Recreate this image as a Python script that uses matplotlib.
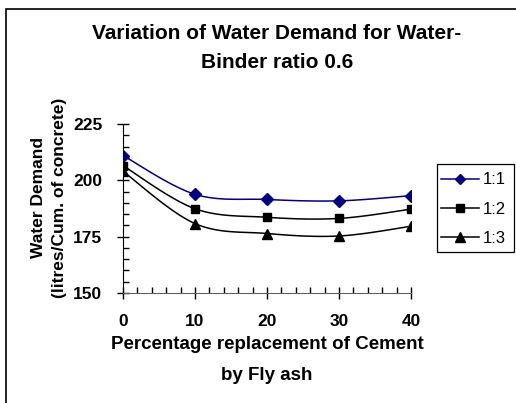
import numpy as np
import matplotlib.pyplot as plt
from matplotlib.patches import Rectangle

plt.rcParams['font.family'] = ['Liberation Sans', 'DejaVu Sans']

replacement = [0, 10, 20, 30, 40]
mix_11 = [211.0, 193.8, 191.5, 190.9, 193.2]
mix_12 = [206.5, 187.4, 183.6, 183.1, 187.2]
mix_13 = [204.0, 180.8, 176.4, 175.3, 179.6]
series_names = ['1:1', '1:2', '1:3']

title = 'Variation of Water Demand for Water-\nBinder ratio 0.6'
xlabel = 'Percentage replacement of Cement\nby Fly ash'
ylabel = 'Water Demand\n(litres/Cum. of concrete)'


def smooth(x, y, n=30):
    # Catmull-Rom style smoothing like Excel "smoothed line"
    x = np.asarray(x, float); y = np.asarray(y, float)
    px = np.concatenate([[x[0]], x, [x[-1]]])
    py = np.concatenate([[y[0]], y, [y[-1]]])
    xs, ys = [], []
    for i in range(1, len(px) - 2):
        t = np.linspace(0, 1, n)
        p0, p1, p2, p3 = [np.array([px[j], py[j]]) for j in range(i - 1, i + 3)]
        c1 = p1 + (p2 - p0) / 6
        c2 = p2 - (p3 - p1) / 6
        b = ((1 - t) ** 3)[:, None] * p1 + (3 * (1 - t) ** 2 * t)[:, None] * c1 \
            + (3 * (1 - t) * t ** 2)[:, None] * c2 + (t ** 3)[:, None] * p2
        xs.append(b[:, 0]); ys.append(b[:, 1])
    return np.concatenate(xs), np.concatenate(ys)


fig = plt.figure(figsize=(5.16, 4.03), dpi=100)
ax = fig.add_axes([123 / 516, 1 - 293 / 403, 288 / 516, 169 / 403])

styles = [('#000080', 'D', 6), ('black', 's', 6), ('black', '^', 7)]
for vals, name, (c, m, ms) in zip([mix_11, mix_12, mix_13], series_names, styles):
    sx, sy = smooth(replacement, vals)
    ax.plot(sx, sy, color=c, lw=1.1)
    ax.plot(replacement, vals, ls='none', marker=m, ms=ms, color=c)
    ax.plot([], [], color=c, lw=1.1, marker=m, ms=ms - 0.5, label=name)

ax.set_xlim(0, 40)
ax.set_ylim(150, 225)
ax.set_xticks([0, 10, 20, 30, 40])
ax.set_yticks([150, 175, 200, 225])
ax.set_xticks(np.arange(0, 41, 2), minor=True)
ax.set_yticks(np.arange(150, 226, 5), minor=True)
for s in ['top', 'right']:
    ax.spines[s].set_visible(False)
ax.spines['bottom'].set_color('#606060')
ax.tick_params(which='major', direction='inout', length=8, width=1, labelsize=12.5)
ax.tick_params(which='minor', direction='in', length=4, width=1)
for lab in ax.get_xticklabels() + ax.get_yticklabels():
    lab.set_fontweight('bold')
ax.tick_params(axis='x', pad=11)
ax.tick_params(axis='y', pad=11)

fig.text(267 / 516, 1 - 360 / 403, xlabel, ha='center', va='center',
         fontsize=13.5, fontweight='bold', linespacing=2.05)
fig.text(49 / 516, 1 - 198 / 403, ylabel, ha='center', va='center',
         rotation=90, fontsize=12.5, fontweight='bold', linespacing=1.5)

fig.text(0.537, 1 - 48 / 403, title, ha='center', va='center', fontsize=15,
         fontweight='bold', linespacing=1.65)

# legend entries without frame, box drawn separately to match Excel layout
leg = ax.legend(loc='center left', bbox_to_anchor=(441 / 516, 1 - 209 / 403),
                bbox_transform=fig.transFigure, frameon=False, fontsize=12,
                handlelength=2.3, labelspacing=0.85, borderaxespad=0,
                handletextpad=0.2, borderpad=0)
fig.patches.append(Rectangle((437 / 516, 1 - 252 / 403), 77 / 516, 88 / 403,
                             transform=fig.transFigure, fill=False,
                             edgecolor='black', lw=0.9))

fig.patches.append(Rectangle((6 / 516, -0.1), 1.2, 1 - 9 / 403 + 0.1,
                             transform=fig.transFigure, fill=False,
                             edgecolor='black', lw=1.2))

fig.savefig('out.png', dpi=100)
